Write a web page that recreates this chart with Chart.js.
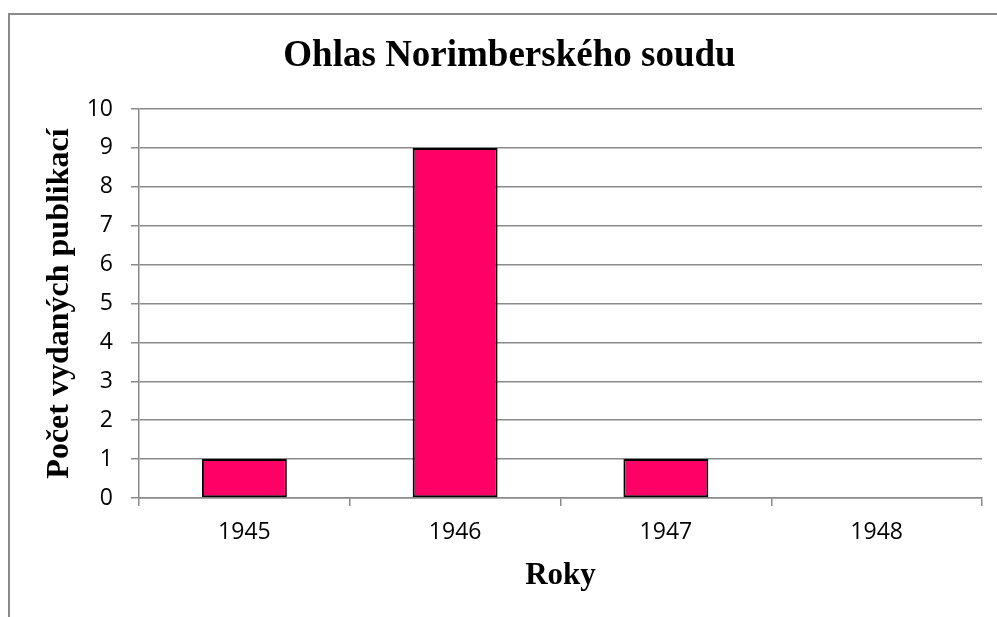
<!DOCTYPE html>
<html>
<head>
<meta charset="utf-8">
<script src="https://cdn.jsdelivr.net/npm/chart.js@4"></script>
<style>
  html, body { margin: 0; padding: 0; width: 997px; height: 617px; overflow: hidden; background: #fff; }
  #frame { position: absolute; left: 8px; top: 13px; width: 2000px; height: 2000px; border-left: 2px solid #8a8a8a; border-top: 2px solid #8a8a8a; box-sizing: border-box; }
  #wrap { position: absolute; left: 0; top: 0; width: 997px; height: 617px; }
</style>
</head>
<body>
<div id="frame"></div>
<div id="wrap"><canvas id="c" width="997" height="617"></canvas></div>
<script>
const chartTitle = "Ohlas Norimberského soudu";
const xAxisTitle = "Roky";
const yAxisTitle = "Počet vydaných publikací";
const categories = ["1945", "1946", "1947", "1948"];
const publications = [1, 9, 1, 0];
const yTicks = [0, 1, 2, 3, 4, 5, 6, 7, 8, 9, 10];

const serif = "'Liberation Serif', 'Times New Roman', serif";
const sans = "'Open Sans', 'Liberation Sans', sans-serif";
const gridColor = "#8a8a8a";

const titleShift = {
  id: 'titleShift',
  afterLayout(chart) {
    if (chart.titleBlock) {
      chart.titleBlock.left = 22;
      chart.titleBlock.right = 997;
    }
  }
};

new Chart(document.getElementById('c'), {
  type: 'bar',
  data: {
    labels: categories,
    datasets: [{
      data: publications,
      backgroundColor: '#FF0066',
      borderColor: '#000000',
      borderWidth: 2,
      borderSkipped: false,
      categoryPercentage: 1.0,
      barPercentage: 0.403
    }]
  },
  options: {
    responsive: false,
    animation: false,
    devicePixelRatio: 1,
    layout: { padding: { left: 0, right: 15, top: 0, bottom: 0 } },
    plugins: {
      legend: { display: false },
      tooltip: { enabled: false },
      title: {
        display: true,
        text: chartTitle,
        color: '#000',
        font: { family: serif, size: 37, weight: 'bold', lineHeight: 1.2 },
        padding: { top: 34, bottom: 30.6 }
      }
    },
    scales: {
      x: {
        grid: {
          display: true,
          offset: true,
          drawOnChartArea: false,
          drawTicks: true,
          tickLength: 8,
          color: gridColor,
          lineWidth: 1.5
        },
        border: { display: true, color: gridColor, width: 1.5 },
        ticks: {
          color: '#000',
          font: { family: sans, size: 23 },
          padding: 13,
          maxRotation: 0
        },
        title: {
          display: true,
          text: xAxisTitle,
          color: '#000',
          font: { family: serif, size: 31, weight: 'bold', lineHeight: 1.2 },
          padding: { top: 0, bottom: 22 }
        },
        afterFit(scale) { scale.height = 119; }
      },
      y: {
        min: 0,
        max: 10,
        afterBuildTicks(scale) { scale.ticks = yTicks.map(v => ({ value: v })); },
        grid: {
          color: gridColor,
          lineWidth: 1.5,
          drawTicks: true,
          tickLength: 8
        },
        border: { display: true, color: gridColor, width: 1.5 },
        ticks: {
          color: '#000',
          font: { family: sans, size: 23 },
          padding: 18
        },
        title: {
          display: true,
          text: yAxisTitle,
          color: '#000',
          font: { family: serif, size: 32, weight: 'bold', lineHeight: 1.2 },
          padding: { top: 40.8, bottom: 0 }
        },
        afterFit(scale) { scale.width = 139; }
      }
    }
  },
  plugins: [titleShift]
});
</script>
</body>
</html>
